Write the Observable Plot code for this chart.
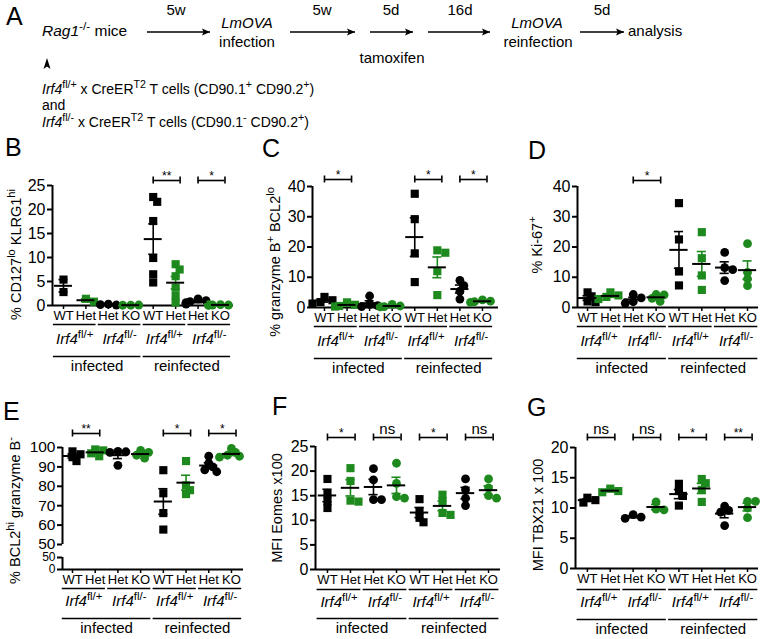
<!DOCTYPE html>
<html><head><meta charset="utf-8">
<script src="https://cdn.jsdelivr.net/npm/d3@7"></script>
<script src="https://cdn.jsdelivr.net/npm/@observablehq/plot@0.6"></script>
<style>
html,body{margin:0;padding:0;background:#fff;}
#root{position:relative;width:762px;height:639px;overflow:hidden;font-family:"Liberation Sans",Arial,Helvetica,sans-serif;color:#000;}
#root > div{position:absolute;}
#overlay{position:absolute;left:0;top:0;}
</style></head><body><div id="root"></div>
<script>
// ---------- shared categories ----------
const categories = ["WT","Het","Het","KO","WT","Het","Het","KO"];
const genotypes = ["~Irf4~^{fl/+}","~Irf4~^{fl/-}","~Irf4~^{fl/+}","~Irf4~^{fl/-}"];
const conditions = ["infected","reinfected"];
const GREEN = "#1e8a1e";
const colors = ["#000",GREEN,"#000",GREEN,"#000",GREEN,"#000",GREEN];
const shapes = ["square","square","circle","circle","square","square","circle","circle"];

// ---------- panel B ----------
const B_values = [[5.4,2.8],[1.4,0.8],[0.3,0.1,0.2],[0.05,0.1,0.05],[22.6,21.6,17.6,9.9,6.5,4.8],[8.6,7.5,6.1,3.7,2.0,0.6],[1.4,1.0,0.8,0.6,0.4,0.3],[0.2,0.1,0.1,0.05,0.1,0.15]];
const B_sig = [null,null,"**","*"];
const B_ticks = [0,5,10,15,20,25];
const B_label = "% CD127^{lo} KLRG1^{hi}";
// ---------- panel C ----------
const C_values = [[3.5,2.4,1.8,1.3],[1.7,0.9,0.5,0.3],[3.8,1.0,0.6,0.3],[1.0,0.5,0.3,0.2],[37.6,29.2,17.9,8.4],[18.9,18.1,12.0,4.1],[9.0,7.2,5.4,2.8],[2.5,2.1,1.9,1.7]];
const C_sig = ["*",null,"*","*"];
const C_ticks = [0,10,20,30,40];
const C_label = "% granzyme B^{+} BCL2^{lo}";
// ---------- panel D ----------
const D_values = [[5.0,3.7,2.0,1.8],[5.0,4.0,3.5,2.8],[4.3,3.2,1.9,1.4],[4.3,4.2,3.0,2.0],[34.5,22.5,11.9,7.3],[24.9,16.3,10.6,5.8],[18.2,13.2,12.5,8.9],[21.1,11.6,9.5,7.2]];
const D_sig = [null,"*",null,null];
const D_ticks = [0,10,20,30,40];
const D_label = "% Ki-67^{+}";
// ---------- panel E ----------
const E_values = [[98,96.5,95,93],[99,98.5,97,95.5],[98,97.8,97.5,90.8],[98.5,97.5,96,94.5],[88.3,76.4,66.2,57.7],[93,80.5,78,76],[95.5,92,90,88.5,87.5],[99.5,97.5,96,95.5,95]];
const E_sig = ["**",null,"*","*"];
const E_ticks = [50,60,70,80,90,100];
const E_ticksLow = [0,49.9];
const E_label = "% BCL2^{hi} granzyme B^{-}";
// ---------- panel F ----------
const F_values = [[18.4,15.4,13.9,12.5],[20.6,18.0,14.0,13.8],[20.5,18.2,14.2,14.2],[21.6,17.5,14.8,14.5],[14.3,11.9,10.5,9.6],[15.2,13.9,11.5,11.1],[18.4,16.2,14.5,13.0],[18.4,16.6,15.0,14.5]];
const F_sig = ["*","ns","*","ns"];
const F_ticks = [0,5,10,15,20,25];
const F_label = "MFI Eomes x100";
// ---------- panel G ----------
const G_values = [[11.7,11.3,10.9],[13.2,12.8,12.6],[8.9,8.5,8.3],[11.0,9.8,9.7],[14.0,12.8,12.0,10.4],[14.8,14.1,13.0,11.0],[10.3,9.6,9.3,7.1],[11.1,11.1,10.0,8.4]];
const G_sig = ["ns","ns","*","**"];
const G_ticks = [0,5,10,15,20];
const G_label = "MFI TBX21 x 100";

const FONT = '"Liberation Sans", Arial, Helvetica, sans-serif';
const root = document.getElementById("root");
const SVGNS = "http://www.w3.org/2000/svg";

// turn ~italic~ and ^{superscript} markup into tspans
function richify(el) {
  el.querySelectorAll("text").forEach(t => {
    const s = t.textContent;
    if (!/[~^]/.test(s)) return;
    t.textContent = "";
    let shifted = false;
    const re = /~([^~]*)~|\^\{([^}]*)\}|([^~^]+)/g;
    let m;
    while ((m = re.exec(s))) {
      const ts = document.createElementNS(SVGNS, "tspan");
      if (m[2] != null) {
        ts.textContent = m[2];
        ts.setAttribute("font-size", "76%");
        ts.setAttribute("font-style", "normal");
        ts.setAttribute("dy", shifted ? "0" : "-0.55em");
        shifted = true;
      } else {
        ts.textContent = m[1] != null ? m[1] : m[3];
        if (m[1] != null) ts.setAttribute("font-style", "italic");
        if (shifted) { ts.setAttribute("dy", "0.42em"); shifted = false; }
      }
      t.appendChild(ts);
    }
  });
}

// simple beeswarm offsets (pixels -> x units)
function swarm(vals, pxPerUnit, spacing) {
  const placed = [];
  const step = 4, minD = 5.5;
  const cands = [0, step, -step, 2*step, -2*step, 3*step, -3*step];
  return vals.map(v => {
    const y = v * pxPerUnit;
    let best = cands[cands.length - 1];
    for (const c of cands) {
      if (placed.every(p => Math.hypot(p.x - c, p.y - y) >= minD)) { best = c; break; }
    }
    placed.push({x: best, y});
    return best / spacing;
  });
}

function panel(cfg) {
  const {values, sig, yTicks, label, L, T, W, H, mL, mR, mT, mB, a, b, bOff, labelDx, labelDy} = cfg;
  const yDomain = cfg.yDomain || [0, yTicks[yTicks.length - 1]];
  const ymin = yDomain[0], ymax = yDomain[yDomain.length - 1];
  const spacing = (W - mL - mR) / (7 + a + b);
  const pxPerUnit = cfg.pxPerUnit || (H - mT - mB) / (ymax - ymin);
  const pts = [];
  values.forEach((vals, i) => {
    const offs = swarm(vals, pxPerUnit, spacing);
    vals.forEach((v, k) => pts.push({i, v, x: i + offs[k]}));
  });
  const stats = values.map((vals, i) => {
    const m = d3.mean(vals), s = d3.deviation(vals) / Math.sqrt(vals.length);
    return {i, mean: m, lo: m - s, hi: m + s};
  });
  const brackets = sig.map((s, k) => s ? {a: 2*k, b: 2*k + 1, s} : null).filter(Boolean);
  const bracketEnds = brackets.flatMap(d => [{x: d.a}, {x: d.b + 0.2}]);
  const geno = genotypes.map((g, k) => ({a: 2*k, b: 2*k + 1, g}));
  const cond = conditions.map((c, k) => ({a: 4*k, b: 4*k + 3, c}));
  const yAxisLines = cfg.broken ? [{y1: 0, y2: 49.9}, {y1: 50, y2: 100}] : [{y1: ymin, y2: ymax}];

  const yScale = {type: "linear", domain: yDomain};
  if (cfg.yRange) yScale.range = cfg.yRange;

  const axesY = [Plot.axisY({ticks: yTicks, tickSize: 5, tickPadding: 2, fontSize: cfg.ticksLow ? 15.5 : 16, strokeWidth: 2, label: null})];
  if (cfg.ticksLow) axesY.push(Plot.axisY({ticks: cfg.ticksLow, tickFormat: d => d > 1 ? "50" : "0", tickSize: 5, tickPadding: 2, fontSize: 12, strokeWidth: 2, label: null}));

  const svg = Plot.plot({
    width: W, height: H,
    marginLeft: mL, marginRight: mR, marginTop: mT, marginBottom: mB,
    style: {fontFamily: FONT, fontSize: "13px", color: "#000", background: "transparent", overflow: "visible"},
    x: {type: "linear", domain: [-a, 7 + b]},
    y: yScale,
    color: {type: "identity"},
    marks: [
      // axes
      Plot.ruleY([ymin], {stroke: "#000", strokeWidth: 2}),
      Plot.ruleX(yAxisLines, {x: -a, y1: "y1", y2: "y2", stroke: "#000", strokeWidth: 2}),
      ...axesY,
      Plot.axisX({ticks: d3.range(8), tickFormat: i => categories[i], tickSize: 4, tickPadding: 1, fontSize: 13, strokeWidth: 1.5, label: null}),
      Plot.text([label], {text: d => d, frameAnchor: "left", textAnchor: "middle", rotate: -90, dx: labelDx, dy: labelDy, fontSize: 14.5}),
      // points
      Plot.dot(pts, {filter: d => shapes[d.i] === "square", x: "x", y: "v", symbol: "square", r: 4.6, fill: d => colors[d.i]}),
      Plot.dot(pts, {filter: d => shapes[d.i] === "circle", x: "x", y: "v", symbol: "circle", r: 4.4, fill: d => colors[d.i]}),
      // SEM bars
      Plot.ruleX(stats, {x: "i", y1: "lo", y2: "hi", stroke: d => colors[d.i], strokeWidth: 1.6}),
      Plot.ruleY(stats, {x1: d => d.i - 0.2, x2: d => d.i + 0.2, y: "hi", stroke: d => colors[d.i], strokeWidth: 1.6}),
      Plot.ruleY(stats, {x1: d => d.i - 0.2, x2: d => d.i + 0.2, y: "lo", stroke: d => colors[d.i], strokeWidth: 1.6}),
      // mean
      Plot.ruleY(stats, {x1: d => d.i - 0.4, x2: d => d.i + 0.4, y: "mean", stroke: "#000", strokeWidth: 2}),
      // significance brackets
      Plot.ruleY(brackets, {x1: d => d.a, x2: d => d.b + 0.2, y: ymax, dy: -bOff, stroke: "#000", strokeWidth: 1.6}),
      Plot.ruleX(bracketEnds, {x: "x", y1: ymax, y2: ymax, dy: -bOff, insetTop: -3.5, insetBottom: -3.5, stroke: "#000", strokeWidth: 1.6}),
      Plot.text(brackets, {filter: d => d.s !== "ns", x: d => (d.a + d.b + 0.2) / 2, y: ymax, text: "s", dy: -bOff - 1, lineAnchor: "bottom", fontSize: 12}),
      Plot.text(brackets, {filter: d => d.s === "ns", x: d => (d.a + d.b + 0.2) / 2, y: ymax, text: "s", dy: -bOff - 4, lineAnchor: "bottom", fontSize: 15}),
      // group annotations under the axis
      Plot.ruleY(geno, {x1: d => d.a - 0.45, x2: d => d.b + 0.45, y: ymin, dy: cfg.g1 || 19, stroke: "#000", strokeWidth: 1.5}),
      Plot.text(geno, {x: d => (d.a + d.b) / 2, y: ymin, text: "g", dy: cfg.g2 || 34, fontSize: 15}),
      Plot.ruleY(cond, {x1: d => d.a - 0.45, x2: d => d.b + 0.45, y: ymin, dy: cfg.g3 || 51, stroke: "#000", strokeWidth: 1.5}),
      Plot.text(cond, {x: d => (d.a + d.b) / 2, y: ymin, text: "c", dy: cfg.g4 || 61, fontSize: 15})
    ]
  });
  const div = document.createElement("div");
  div.style.left = L + "px"; div.style.top = T + "px";
  div.appendChild(svg);
  root.appendChild(div);
  richify(svg);
}

panel({values: B_values, sig: B_sig, yTicks: B_ticks, label: B_label,
  L: 0, T: 160, W: 250, H: 220, mL: 52, mR: 17, mT: 25, mB: 75, a: 0.49, b: 0.58, bOff: 5, labelDx: -36, labelDy: 9});
panel({values: C_values, sig: C_sig, yTicks: C_ticks, label: C_label,
  L: 250, T: 160, W: 255, H: 220, mL: 62, mR: 7, mT: 26, mB: 73, a: 0.53, b: 0.71, bOff: 7, labelDx: -37, labelDy: 15});
panel({values: D_values, sig: D_sig, yTicks: D_ticks, label: D_label,
  L: 505, T: 160, W: 257, H: 220, mL: 72, mR: 4, mT: 26, mB: 73, a: 0.44, b: 0.48, bOff: 6, labelDx: -40, labelDy: -2});
panel({values: E_values, sig: E_sig, yTicks: E_ticks, ticksLow: E_ticksLow, label: E_label, broken: true,
  yDomain: [0, 49.9, 50, 100], yRange: [149, 137, 124, 27], pxPerUnit: 1.94,
  L: 0, T: 420, W: 250, H: 219, mL: 62, mR: 7, mT: 27, mB: 70, a: 0.44, b: 0.53, bOff: 14, labelDx: -47, labelDy: 2,
  g1: 19, g2: 32, g3: 49, g4: 59});
panel({values: F_values, sig: F_sig, yTicks: F_ticks, label: F_label,
  L: 250, T: 420, W: 255, H: 219, mL: 65, mR: 5, mT: 26, mB: 70, a: 0.52, b: 0.52, bOff: 9, labelDx: -38, labelDy: 0,
  g1: 20, g2: 33, g3: 49, g4: 59});
panel({values: G_values, sig: G_sig, yTicks: G_ticks, label: G_label,
  L: 505, T: 420, W: 257, H: 219, mL: 70, mR: 4, mT: 27, mB: 71, a: 0.52, b: 0.48, bOff: 10, labelDx: -37, labelDy: 7,
  g1: 21, g2: 34, g3: 51, g4: 61});

// ---------- panel A schematic + panel letters ----------
const schemeTexts = [
  {x: 42, y: 36, t: "~Rag1~^{-/-} mice", anchor: "start", s: 15.5},
  {x: 176, y: 15, t: "5w"}, {x: 322, y: 15, t: "5w"}, {x: 391, y: 15, t: "5d"}, {x: 460, y: 15, t: "16d"}, {x: 602, y: 15, t: "5d"},
  {x: 247, y: 28, t: "~LmOVA~"}, {x: 247, y: 47, t: "infection"},
  {x: 392, y: 63, t: "tamoxifen"},
  {x: 537, y: 28, t: "~LmOVA~"}, {x: 538, y: 47, t: "reinfection"},
  {x: 628, y: 36, t: "analysis", anchor: "start"},
  {x: 42, y: 94, t: "~Irf4~^{fl/+} x CreER^{T2} T cells (CD90.1^{+} CD90.2^{+})", anchor: "start", s: 14},
  {x: 42, y: 110, t: "and", anchor: "start", s: 14},
  {x: 42, y: 127, t: "~Irf4~^{fl/-} x CreER^{T2} T cells (CD90.1^{-} CD90.2^{+})", anchor: "start", s: 14}
];
const schemeArrows = [[147,210],[290,355],[370,413],[428,490],[580,624]];
const arrowY = 32;
const panelLetters = [{t:"A",x:6,y:25},{t:"B",x:5,y:156},{t:"C",x:262,y:157},{t:"D",x:528,y:159},{t:"E",x:3,y:420},{t:"F",x:272,y:415},{t:"G",x:527,y:416}];

const ov = d3.create("svg").attr("id", "overlay").attr("width", 762).attr("height", 639)
  .style("font-family", FONT).style("pointer-events", "none");
ov.append("defs").append("marker").attr("id", "ah").attr("viewBox", "0 0 10 10")
  .attr("refX", 10).attr("refY", 5).attr("markerWidth", 9).attr("markerHeight", 8)
  .attr("markerUnits", "userSpaceOnUse").attr("orient", "auto")
  .append("path").attr("d", "M0,0.5 L10,5 L0,9.5 L2,5 z").attr("fill", "#000");
ov.selectAll("line.arr").data(schemeArrows).join("line").attr("class", "arr")
  .attr("x1", d => d[0]).attr("x2", d => d[1]).attr("y1", arrowY).attr("y2", arrowY)
  .attr("stroke", "#000").attr("stroke-width", 1.4).attr("marker-end", "url(#ah)");
ov.append("path").attr("d", "M47,58 L50.5,69 L47,66.5 L43.5,69 Z").attr("fill", "#000");
ov.selectAll("text.s").data(schemeTexts).join("text").attr("class", "s")
  .attr("x", d => d.x).attr("y", d => d.y).attr("text-anchor", d => d.anchor || "middle")
  .attr("font-size", d => d.s || 15).text(d => d.t);
ov.selectAll("text.l").data(panelLetters).join("text").attr("class", "l")
  .attr("x", d => d.x).attr("y", d => d.y).attr("font-size", 25).text(d => d.t);
root.appendChild(ov.node());
richify(ov.node());
</script></body></html>
